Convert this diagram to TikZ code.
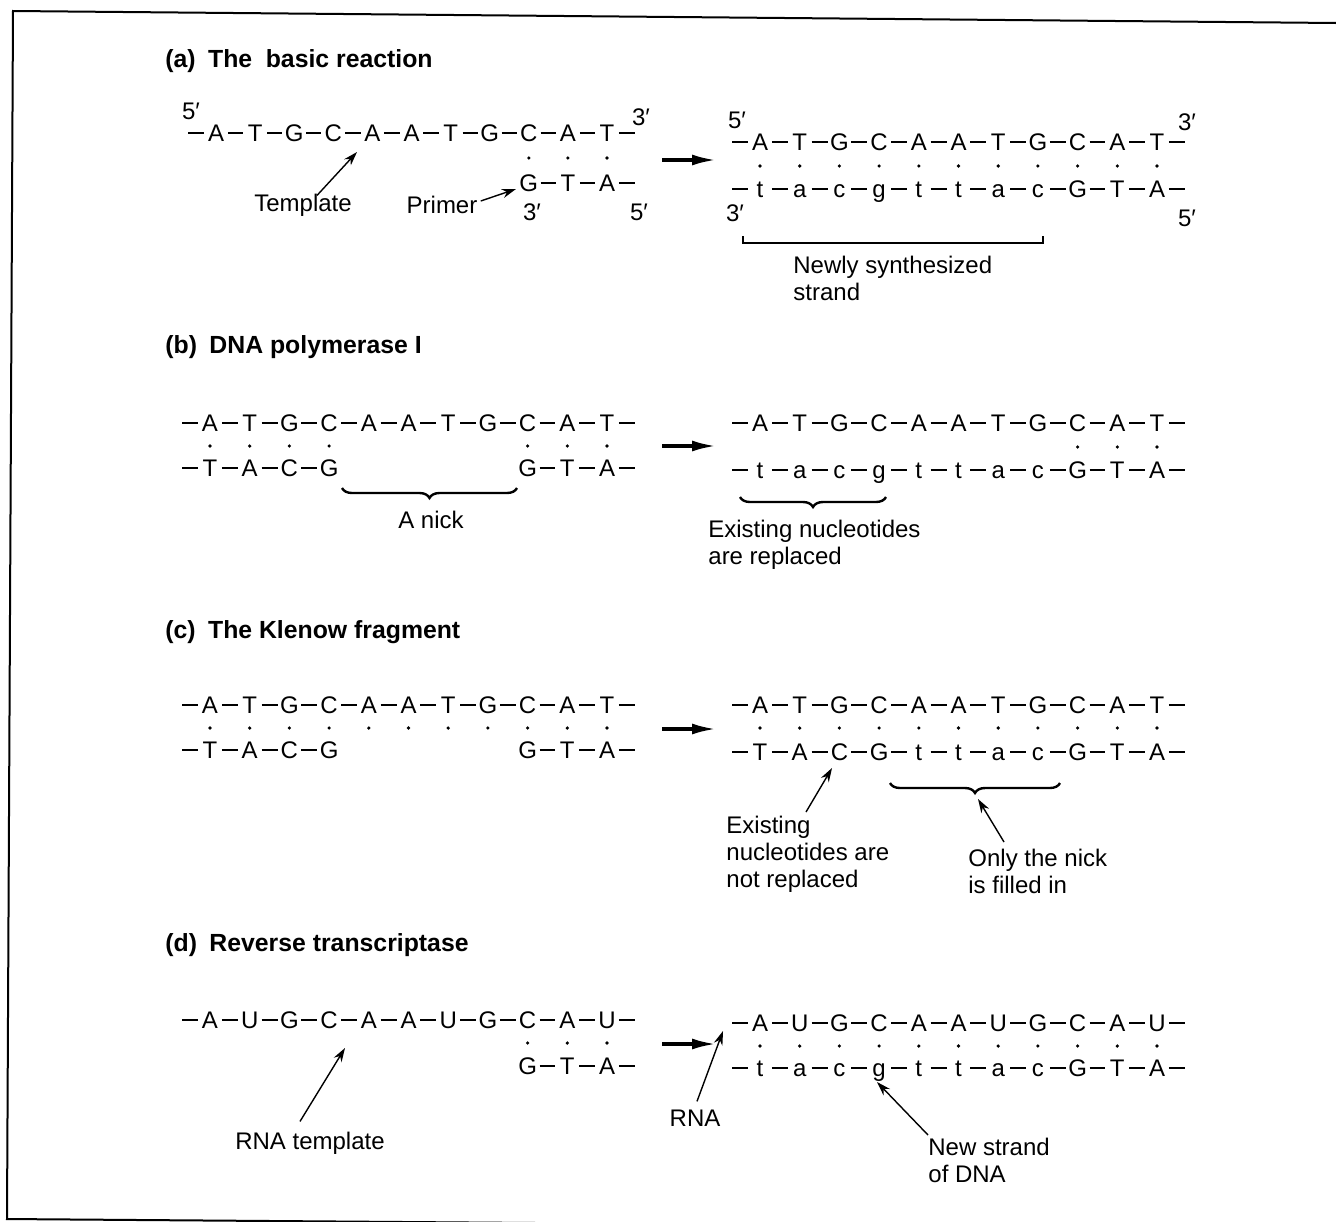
\documentclass[tikz,border=0pt]{standalone}
\usepackage{fontspec}
\setmainfont{Liberation Sans}
\usetikzlibrary{arrows.meta, decorations.pathreplacing}
\tikzset{nt/.style = {font=\fontsize{12}{14}\selectfont, inner sep=0pt,
                      minimum width=11.5pt, text height=8.6pt, text depth=0pt},
         bond/.style = {line width=0.95pt},
         heading/.style = {font=\fontsize{12.4}{14}\selectfont\bfseries,
                           anchor=west, inner sep=0pt},
         note/.style = {font=\fontsize{12}{13.4}\selectfont, inner sep=0pt,
                        align=left},
         pointer/.style = {line width=0.7pt, -{Stealth[length=7pt, width=4.5pt]}},
         yields/.style = {line width=1.6pt, -{Latex[length=12pt, width=5.5pt]}},
         span/.style = {line width=1.2pt, decorate,
                        decoration = {brace, mirror, amplitude=5pt}}}

\begin{document}
\begin{tikzpicture}[x=0.5pt, y=-0.5pt]
  \useasboundingbox (0,0) rectangle (1336,1221);
  \clip (0,0) rectangle (1336,1221);
  \draw[line width=1pt] (1336,23) -- (13,11) -- (7,1219) -- (1336,1229);

  % (a) template + primer -> new strand
  \node[heading] (ha) at (165,61) {(a)\hspace{0.5em}The\hspace{0.55em}basic reaction};
  \foreach \b [count=\i] in {A,T,G,C,A,A,T,G,C,A,T}
    \node[nt] (aLt\i) at ({216+(\i-1)*39.1},133) {\b};
  \foreach \b [count=\i from 9] in {G,T,A}
    \node[nt] (aLb\i) at ({216+(\i-1)*39.1},183) {\b};
  \coordinate (aLt0) at ([xshift=-8pt]aLt1.west);
  \coordinate (aLt12) at ([xshift=8pt]aLt11.east);
  \coordinate (aLb12) at ([xshift=8pt]aLb11.east);
  \foreach \i [count=\j] in {0,...,11}
    \draw[bond] (aLt\i) -- (aLt\j);
  \foreach \i [count=\j from 10] in {9,10,11}
    \draw[bond] (aLb\i) -- (aLb\j);
  \foreach \i in {9,10,11}
    \fill ([yshift=-12.5pt]aLt\i) circle (0.9pt);
  \node[note] (aL5) at (191,111) {5′};
  \node[note] (aL3) at (641,117) {3′};
  \node[note] (aLb3) at (532,212) {3′};
  \node[note] (aLb5) at (639,212) {5′};
  \node[note] (tmpl) at (303,205) {Template};
  \node[note] (prmr) at (442,205) {Primer};
  \coordinate (tmplTip) at (357,152);
  \coordinate (prmrTip) at (516,189);
  \draw[pointer] ([xshift=7pt,yshift=-1pt]tmpl.north) -- (tmplTip);
  \draw[pointer] ([xshift=1.5pt,yshift=2pt]prmr.east) -- (prmrTip);

  \coordinate (aFrom) at (662,160);
  \coordinate (aTo) at (716,160);
  \draw[yields] (aFrom) -- (aTo);

  \foreach \b [count=\i] in {A,T,G,C,A,A,T,G,C,A,T}
    \node[nt] (aRt\i) at ({760+(\i-1)*39.7},142) {\b};
  \foreach \b [count=\i] in {t,a,c,g,t,t,a,c,G,T,A}
    \node[nt] (aRb\i) at ({760+(\i-1)*39.7},189) {\b};
  \coordinate (aRt0) at ([xshift=-8pt]aRt1.west);
  \coordinate (aRt12) at ([xshift=8pt]aRt11.east);
  \coordinate (aRb0) at ([xshift=-8pt]aRb1.west);
  \coordinate (aRb12) at ([xshift=8pt]aRb11.east);
  \foreach \i [count=\j] in {0,...,11} {
    \draw[bond] (aRt\i) -- (aRt\j);
    \draw[bond] (aRb\i) -- (aRb\j);
  }
  \foreach \i in {1,...,11}
    \fill ([yshift=-12pt]aRt\i) circle (0.9pt);
  \node[note] (aR5) at (737,120) {5′};
  \node[note] (aR3) at (1187,122) {3′};
  \node[note] (aRb3) at (735,213) {3′};
  \node[note] (aRb5) at (1187,218) {5′};
  \draw[line width=1.2pt] (743,236) -- (743,243) -- (1043,243) -- (1043,236);
  \node[note, anchor=north west] (newly) at (793,256) {Newly synthesized\\strand};

  % (b) DNA polymerase I
  \node[heading] (hb) at (165,347) {(b)\hspace{0.5em}DNA polymerase I};
  \foreach \b [count=\i] in {A,T,G,C,A,A,T,G,C,A,T}
    \node[nt] (bLt\i) at ({210+(\i-1)*39.7},423) {\b};
  \foreach \b [count=\i] in {T,A,C,G}
    \node[nt] (bLb\i) at ({210+(\i-1)*39.7},468) {\b};
  \foreach \b [count=\i from 9] in {G,T,A}
    \node[nt] (bLb\i) at ({210+(\i-1)*39.7},468) {\b};
  \coordinate (bLt0) at ([xshift=-8pt]bLt1.west);
  \coordinate (bLt12) at ([xshift=8pt]bLt11.east);
  \coordinate (bLb0) at ([xshift=-8pt]bLb1.west);
  \coordinate (bLb12) at ([xshift=8pt]bLb11.east);
  \foreach \i [count=\j] in {0,...,11}
    \draw[bond] (bLt\i) -- (bLt\j);
  \foreach \i/\j in {0/1,1/2,2/3,3/4,9/10,10/11,11/12}
    \draw[bond] (bLb\i) -- (bLb\j);
  \foreach \i in {1,2,3,4,9,10,11}
    \fill ([yshift=-11.5pt]bLt\i) circle (0.9pt);
  \draw[span] (342,488) -- (517,488);
  \node[note] (nick) at (431,520) {A nick};

  \coordinate (bFrom) at (662,446);
  \coordinate (bTo) at (716,446);
  \draw[yields] (bFrom) -- (bTo);

  \foreach \b [count=\i] in {A,T,G,C,A,A,T,G,C,A,T}
    \node[nt] (bRt\i) at ({760+(\i-1)*39.7},423) {\b};
  \foreach \b [count=\i] in {t,a,c,g,t,t,a,c,G,T,A}
    \node[nt] (bRb\i) at ({760+(\i-1)*39.7},470) {\b};
  \coordinate (bRt0) at ([xshift=-8pt]bRt1.west);
  \coordinate (bRt12) at ([xshift=8pt]bRt11.east);
  \coordinate (bRb0) at ([xshift=-8pt]bRb1.west);
  \coordinate (bRb12) at ([xshift=8pt]bRb11.east);
  \foreach \i [count=\j] in {0,...,11} {
    \draw[bond] (bRt\i) -- (bRt\j);
    \draw[bond] (bRb\i) -- (bRb\j);
  }
  \foreach \i in {9,10,11}
    \fill ([yshift=-12pt]bRt\i) circle (0.9pt);
  \draw[span] (740,497) -- (886,497);
  \node[note, anchor=north west] (repl) at (708,520) {Existing nucleotides\\are replaced};

  % (c) Klenow fragment
  \node[heading] (hc) at (165,632) {(c)\hspace{0.5em}The Klenow fragment};
  \foreach \b [count=\i] in {A,T,G,C,A,A,T,G,C,A,T}
    \node[nt] (cLt\i) at ({210+(\i-1)*39.7},705) {\b};
  \foreach \b [count=\i] in {T,A,C,G}
    \node[nt] (cLb\i) at ({210+(\i-1)*39.7},750) {\b};
  \foreach \b [count=\i from 9] in {G,T,A}
    \node[nt] (cLb\i) at ({210+(\i-1)*39.7},750) {\b};
  \coordinate (cLt0) at ([xshift=-8pt]cLt1.west);
  \coordinate (cLt12) at ([xshift=8pt]cLt11.east);
  \coordinate (cLb0) at ([xshift=-8pt]cLb1.west);
  \coordinate (cLb12) at ([xshift=8pt]cLb11.east);
  \foreach \i [count=\j] in {0,...,11}
    \draw[bond] (cLt\i) -- (cLt\j);
  \foreach \i/\j in {0/1,1/2,2/3,3/4,9/10,10/11,11/12}
    \draw[bond] (cLb\i) -- (cLb\j);
  \foreach \i in {1,...,11}
    \fill ([yshift=-11.5pt]cLt\i) circle (0.9pt);

  \coordinate (cFrom) at (662,729);
  \coordinate (cTo) at (716,729);
  \draw[yields] (cFrom) -- (cTo);

  \foreach \b [count=\i] in {A,T,G,C,A,A,T,G,C,A,T}
    \node[nt] (cRt\i) at ({760+(\i-1)*39.7},705) {\b};
  \foreach \b [count=\i] in {T,A,C,G,t,t,a,c,G,T,A}
    \node[nt] (cRb\i) at ({760+(\i-1)*39.7},752) {\b};
  \coordinate (cRt0) at ([xshift=-8pt]cRt1.west);
  \coordinate (cRt12) at ([xshift=8pt]cRt11.east);
  \coordinate (cRb0) at ([xshift=-8pt]cRb1.west);
  \coordinate (cRb12) at ([xshift=8pt]cRb11.east);
  \foreach \i [count=\j] in {0,...,11} {
    \draw[bond] (cRt\i) -- (cRt\j);
    \draw[bond] (cRb\i) -- (cRb\j);
  }
  \foreach \i in {1,...,11}
    \fill ([yshift=-11.5pt]cRt\i) circle (0.9pt);
  \draw[span] (890,783) -- (1060,783);
  \node[note, anchor=north west] (kept) at (726,816) {Existing\\nucleotides are\\not replaced};
  \node[note, anchor=north west] (fill) at (968,849) {Only the nick\\is filled in};
  \coordinate (keptTip) at (832,768);
  \coordinate (fillTip) at (978,799);
  \draw[pointer] ([xshift=40pt,yshift=2pt]kept.north west) -- (keptTip);
  \draw[pointer] ([xshift=18pt,yshift=3.5pt]fill.north west) -- (fillTip);

  % (d) reverse transcriptase
  \node[heading] (hd) at (165,945) {(d)\hspace{0.5em}Reverse transcriptase};
  \foreach \b [count=\i] in {A,U,G,C,A,A,U,G,C,A,U}
    \node[nt] (dLt\i) at ({210+(\i-1)*39.7},1020) {\b};
  \foreach \b [count=\i from 9] in {G,T,A}
    \node[nt] (dLb\i) at ({210+(\i-1)*39.7},1066) {\b};
  \coordinate (dLt0) at ([xshift=-8pt]dLt1.west);
  \coordinate (dLt12) at ([xshift=8pt]dLt11.east);
  \coordinate (dLb12) at ([xshift=8pt]dLb11.east);
  \foreach \i [count=\j] in {0,...,11}
    \draw[bond] (dLt\i) -- (dLt\j);
  \foreach \i [count=\j from 10] in {9,10,11}
    \draw[bond] (dLb\i) -- (dLb\j);
  \foreach \i in {9,10,11}
    \fill ([yshift=-11.5pt]dLt\i) circle (0.9pt);
  \node[note] (rnat) at (310,1143) {RNA template};
  \coordinate (rnatTip) at (345,1048);
  \draw[pointer] ([xshift=-5pt,yshift=5pt]rnat.north) -- (rnatTip);

  \coordinate (dFrom) at (662,1044);
  \coordinate (dTo) at (716,1044);
  \draw[yields] (dFrom) -- (dTo);

  \foreach \b [count=\i] in {A,U,G,C,A,A,U,G,C,A,U}
    \node[nt] (dRt\i) at ({760+(\i-1)*39.7},1023) {\b};
  \foreach \b [count=\i] in {t,a,c,g,t,t,a,c,G,T,A}
    \node[nt] (dRb\i) at ({760+(\i-1)*39.7},1068) {\b};
  \coordinate (dRt0) at ([xshift=-8pt]dRt1.west);
  \coordinate (dRt12) at ([xshift=8pt]dRt11.east);
  \coordinate (dRb0) at ([xshift=-8pt]dRb1.west);
  \coordinate (dRb12) at ([xshift=8pt]dRb11.east);
  \foreach \i [count=\j] in {0,...,11} {
    \draw[bond] (dRt\i) -- (dRt\j);
    \draw[bond] (dRb\i) -- (dRb\j);
  }
  \foreach \i in {1,...,11}
    \fill ([yshift=-11.5pt]dRt\i) circle (0.9pt);
  \node[note] (rna) at (695,1118) {RNA};
  \node[note, anchor=north west] (dna) at (928,1138) {New strand\\of DNA};
  \coordinate (rnaTip) at (723,1031);
  \coordinate (dnaTip) at (877,1082);
  \draw[pointer] ([xshift=1pt,yshift=4pt]rna.north) -- (rnaTip);
  \draw[pointer] ([yshift=1.5pt]dna.north west) -- (dnaTip);
\end{tikzpicture}
\end{document}
